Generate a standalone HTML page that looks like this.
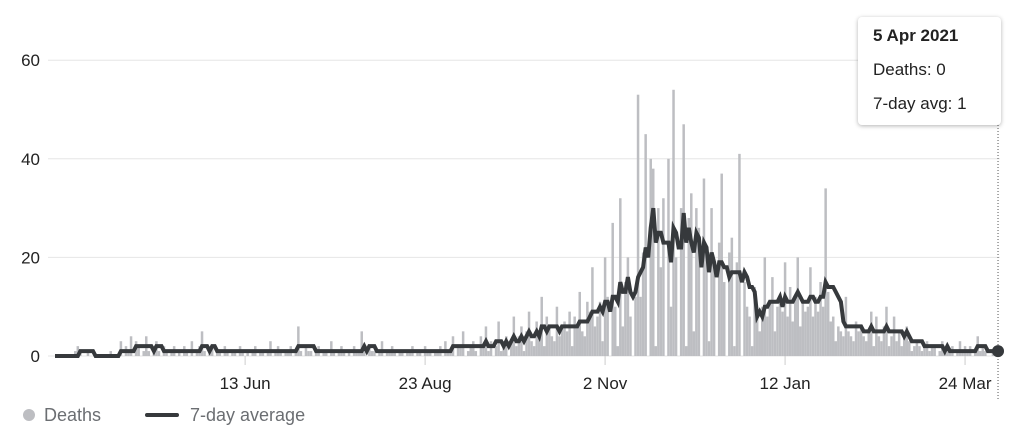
<!DOCTYPE html>
<html><head><meta charset="utf-8">
<style>
body{margin:0;background:#fff;font-family:"Liberation Sans",Arial,sans-serif;}
#wrap{position:relative;width:1024px;height:445px;overflow:hidden;}
.tip{position:absolute;left:858px;top:17px;width:143px;height:108px;background:#fff;border-radius:4px;box-shadow:0 1px 4px rgba(0,0,0,0.3);font-size:17px;color:#222;}
.tip div{position:absolute;left:15px;}
</style></head><body>
<div id="wrap">
<svg id="chart" width="1024" height="445"></svg>
<div class="tip">
<div style="top:9px;font-weight:bold">5 Apr 2021</div>
<div style="top:43px">Deaths: 0</div>
<div style="top:77px">7-day avg: 1</div>
</div>
</div>
<script>
const deaths = [
0,0,0,0,0,0,0,0,1,2, 1,0,0,1,0,0,0,0,0,0, 0,0,1,0,0,0,3,0,2,1,
4,0,3,2,0,1,4,1,0,2, 3,1,0,2,1,0,1,2,0,1, 0,2,1,0,3,0,1,2,5,1,
0,1,2,0,1,1,0,2,1,0, 1,1,0,2,1,0,1,0,1,2, 0,1,1,0,1,3,0,1,2,1,
0,1,1,2,0,1,6,1,0,2, 1,1,0,1,2,0,1,1,0,3, 1,0,1,2,1,0,1,0,2,1,
1,5,1,0,2,1,1,0,1,3, 0,1,1,2,1,0,1,1,0,1, 1,2,0,1,1,0,2,1,1,0,
1,1,2,0,3,1,1,4,0,2, 2,5,0,1,2,3,1,0,4,2, 6,1,3,0,2,7,1,3,4,0,
3,8,2,4,6,1,5,9,3,2, 7,4,12,2,8,6,4,3,10,4, 6,7,5,9,2,8,6,13,5,4,
11,9,18,6,8,11,3,20,12,0, 27,10,2,32,6,15,20,8,0,12, 53,12,21,45,0,40,38,2,30,18,
32,0,40,10,54,20,0,30,47,2, 28,33,5,30,26,0,36,22,3,30, 18,0,23,37,15,0,21,24,2,19,
41,0,15,10,8,2,14,9,5,10, 20,8,11,16,5,10,12,9,19,8, 14,7,12,20,6,11,9,10,18,8,
12,9,15,10,34,13,7,8,3,6, 5,4,12,5,4,3,7,5,6,4, 3,5,9,2,8,4,3,6,10,2,
4,8,3,5,2,4,6,3,1,2, 3,2,1,2,3,1,2,2,0,1, 3,1,2,1,2,0,1,3,1,2, 1,2,0,1,4,1,2,1,0,0,
1,1,0
];
const yTicks = [0,20,40,60];
const xTickLabels = ["13 Jun","23 Aug","2 Nov","12 Jan","24 Mar"];
const xTickDays = [75,146,217,288,359];

const NS="http://www.w3.org/2000/svg";
const svg=document.getElementById('chart');
const x0=55, pxDay=2.535, yBase=356, pxUnit=4.93;
const xs=d=>x0+d*pxDay;
const ys=v=>yBase-v*pxUnit;
function mk(t,a){const e=document.createElementNS(NS,t);for(const k in a)e.setAttribute(k,a[k]);svg.appendChild(e);return e;}

yTicks.forEach(v=>{
  const g=mk('line',{x1:48,x2:1000,y1:ys(v),y2:ys(v),stroke:'#e6e6e6','stroke-width':1});
  
  
  const t=mk('text',{x:40,y:ys(v)+6,'text-anchor':'end','font-size':17,fill:'#222'});
  t.textContent=v;
  
  
});
xTickDays.forEach((d,i)=>{
  const l=mk('line',{x1:xs(d),x2:xs(d),y1:yBase,y2:yBase+9,stroke:'#ccc','stroke-width':1});
  
  
  const t=mk('text',{x:xs(d),y:389,'text-anchor':'middle','font-size':17,fill:'#222'});
  t.textContent=xTickLabels[i];
  
  
});
deaths.forEach((v,i)=>{
  if(v<=0)return;
  const b=mk('rect',{x:xs(i)-1.25,y:ys(v),width:2.5,height:v*pxUnit,fill:'#bdbec2'});
  
  
});
const avg=deaths.map((v,i)=>{let s=0,n=0;for(let j=Math.max(0,i-6);j<=i;j++){s+=deaths[j];n++;}return Math.round(s/n);});
const pts=avg.map((v,i)=>xs(i).toFixed(1)+','+ys(v).toFixed(1)).join(' ');
const pl=mk('polyline',{points:pts,fill:'none',stroke:'#36393c','stroke-width':4,'stroke-linejoin':'miter'});


const last=deaths.length-1;
const vl=mk('line',{x1:xs(last),x2:xs(last),y1:125,y2:400,stroke:'#555','stroke-width':1,'stroke-dasharray':'1,2'});


const dot=mk('circle',{cx:xs(last),cy:ys(avg[last]),r:6,fill:'#36393c'});


const ld=mk('circle',{cx:29,cy:415,r:6,fill:'#bdbec2'});


const lt=mk('text',{x:44,y:421,'font-size':18,fill:'#6b6e72'});lt.textContent='Deaths';


const ll=mk('line',{x1:147,x2:177,y1:415,y2:415,stroke:'#36393c','stroke-width':4,'stroke-linecap':'round'});


const lt2=mk('text',{x:190,y:421,'font-size':18,fill:'#6b6e72'});lt2.textContent='7-day average';


</script>
</body></html>
